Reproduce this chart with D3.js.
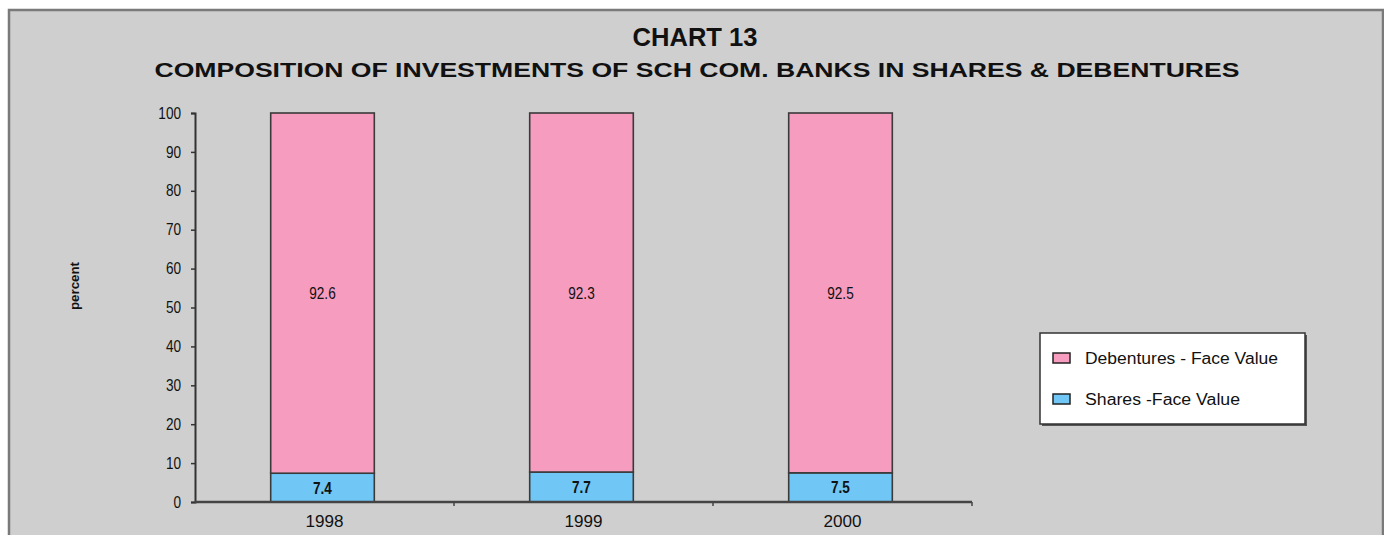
<!DOCTYPE html>
<html>
<head>
<meta charset="utf-8">
<script src="https://cdn.jsdelivr.net/npm/d3@7/dist/d3.min.js"></script>
<style>
  html, body { margin: 0; padding: 0; background: #ffffff; }
  svg { display: block; }
  text { font-family: "Liberation Sans", Arial, sans-serif; fill: #111; }
</style>
</head>
<body>
<svg id="chart" width="1384" height="535"></svg>
<script>
// Years on the category axis
const years = ["1998", "1999", "2000"];
// Share of each instrument in total investments (percent)
const shares = [7.4, 7.7, 7.5];
const debentures = [92.6, 92.3, 92.5];
// Value axis ticks
const yTicks = [0, 10, 20, 30, 40, 50, 60, 70, 80, 90, 100];
const seriesNames = ["Debentures - Face Value", "Shares -Face Value"];

const colors = { debentures: "#f59cbf", shares: "#70c6f4" };

const svg = d3.select("#chart");
const W = 1384, H = 535;

// Chart area frame
svg.append("rect").attr("x", 0).attr("y", 0).attr("width", W).attr("height", H).attr("fill", "#ffffff");
svg.append("rect").attr("x", 9).attr("y", 10).attr("width", W - 10).attr("height", H)
  .attr("fill", "#cfcfcf").attr("stroke", "#7a7a7a").attr("stroke-width", 2.5);

// Titles
svg.append("text").attr("x", 695).attr("y", 46).attr("text-anchor", "middle")
  .attr("font-size", 25).attr("font-weight", "bold")
  .attr("textLength", 125).attr("lengthAdjust", "spacingAndGlyphs").text("CHART 13");
svg.append("text").attr("x", 697).attr("y", 77).attr("text-anchor", "middle")
  .attr("font-size", 21).attr("font-weight", "bold")
  .attr("textLength", 1085).attr("lengthAdjust", "spacingAndGlyphs")
  .text("COMPOSITION OF INVESTMENTS OF SCH COM. BANKS IN SHARES & DEBENTURES");

// Scales
const plot = { left: 195, right: 972, top: 113, bottom: 502 };
const x = d3.scaleBand().domain(years).range([plot.left, plot.right]).paddingInner(0.6).paddingOuter(0.3);
const xOuter = d3.scaleBand().domain(years).range([plot.left, plot.right]);
const y = d3.scaleLinear().domain([0, 100]).range([plot.bottom, plot.top]);

// Stacked data
const rows = years.map((yr, i) => ({ year: yr, shares: shares[i], debentures: debentures[i] }));
const stack = d3.stack().keys(["shares", "debentures"])(rows);

const g = svg.append("g");
stack.forEach(layer => {
  g.selectAll(null).data(layer).enter().append("rect")
    .attr("x", d => x(d.data.year) - 2)
    .attr("width", x.bandwidth())
    .attr("y", d => y(d[1]))
    .attr("height", d => y(d[0]) - y(d[1]))
    .attr("fill", colors[layer.key])
    .attr("stroke", "#3a3a3a").attr("stroke-width", 1.6);
  g.selectAll(null).data(layer).enter().append("text")
    .attr("x", d => x(d.data.year) - 2 + x.bandwidth() / 2)
    .attr("y", d => (y(d[0]) + y(d[1])) / 2 + 6)
    .attr("text-anchor", "middle").attr("font-size", 16)
    .attr("transform-origin", d => `${x(d.data.year) - 2 + x.bandwidth() / 2}px 0px`)
    .attr("transform", "scale(0.85,1)")
    .attr("font-weight", layer.key === "shares" ? "bold" : "normal")
    .text(d => (d[1] - d[0]).toFixed(1));
});

// Y axis
const yAxis = d3.axisLeft(y).tickValues(yTicks).tickSize(4).tickPadding(10);
const ya = svg.append("g").attr("transform", `translate(${plot.left},0)`).call(yAxis);
ya.select(".domain").attr("stroke", "#333").attr("stroke-width", 2);
ya.selectAll(".tick line").attr("stroke", "#333").attr("stroke-width", 1.5);
ya.selectAll(".tick text").attr("font-size", 16).attr("fill", "#111")
  .attr("font-family", "'Liberation Sans', Arial, sans-serif")
  .attr("transform", "scale(0.85,1)").attr("transform-origin", "-14px 0px");

// X axis with ticks on category boundaries
const xa = svg.append("g").attr("transform", `translate(0,${plot.bottom})`);
xa.append("line").attr("x1", plot.left).attr("x2", plot.right).attr("y1", 0).attr("y2", 0)
  .attr("stroke", "#444").attr("stroke-width", 2.5);
const bounds = years.map(d => xOuter(d)).concat([plot.right]).slice(1);
xa.selectAll(null).data(bounds).enter().append("line")
  .attr("x1", d => d).attr("x2", d => d).attr("y1", 0).attr("y2", 4)
  .attr("stroke", "#444").attr("stroke-width", 1.5);
xa.selectAll(null).data(years).enter().append("text")
  .attr("x", d => xOuter(d) + xOuter.bandwidth() / 2).attr("y", 25)
  .attr("text-anchor", "middle").attr("font-size", 16)
  .attr("textLength", 38).attr("lengthAdjust", "spacingAndGlyphs").text(d => d);

// Value axis title
svg.append("text").attr("transform", "translate(79,286) rotate(-90)")
  .attr("text-anchor", "middle").attr("font-size", 13).attr("font-weight", "bold")
  .attr("textLength", 48).attr("lengthAdjust", "spacingAndGlyphs").text("percent");

// Legend
const lg = svg.append("g").attr("transform", "translate(1040,333)");
lg.append("rect").attr("x", 2).attr("y", 2).attr("width", 265).attr("height", 91).attr("fill", "#555");
lg.append("rect").attr("x", 0).attr("y", 0).attr("width", 265).attr("height", 91)
  .attr("fill", "#ffffff").attr("stroke", "#333").attr("stroke-width", 1.5);
const legendItems = [
  { name: seriesNames[0], color: colors.debentures, cy: 25, len: 193 },
  { name: seriesNames[1], color: colors.shares, cy: 66, len: 155 }
];
legendItems.forEach(it => {
  lg.append("rect").attr("x", 13).attr("y", it.cy - 5).attr("width", 17).attr("height", 10)
    .attr("fill", it.color).attr("stroke", "#222").attr("stroke-width", 1.5);
  lg.append("text").attr("x", 45).attr("y", it.cy + 6).attr("font-size", 16)
    .attr("textLength", it.len).attr("lengthAdjust", "spacingAndGlyphs").text(it.name);
});
</script>
</body>
</html>
